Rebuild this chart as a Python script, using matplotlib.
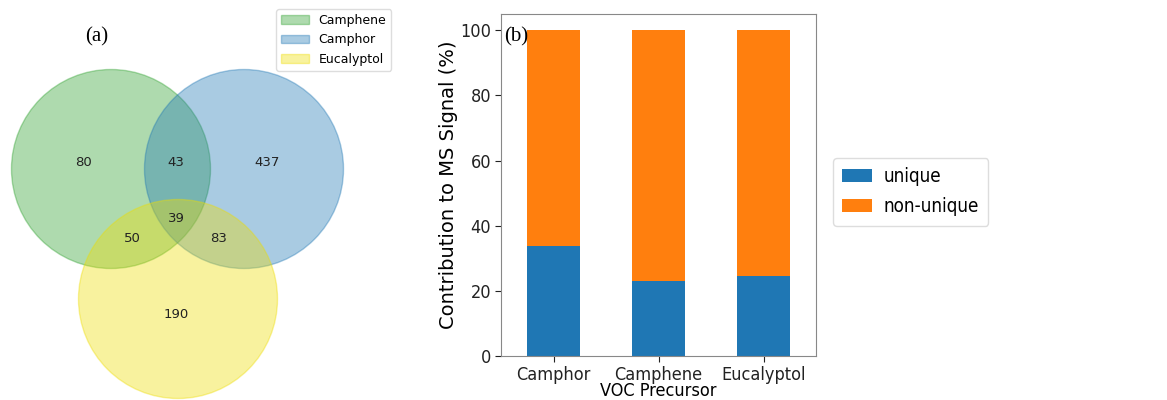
import matplotlib
matplotlib.use("Agg")
import matplotlib.pyplot as plt
from matplotlib.patches import Circle, Patch
from matplotlib.font_manager import FontProperties
import numpy as np

# ---- data ----
venn_sets = ["Camphene", "Camphor", "Eucalyptol"]
venn_colors = ["#2ca02c", "#1f77b4", "#eedd00"]
# region counts: only A, only B, only C, AB, AC, BC, ABC
venn_regions = ["100", "010", "001", "110", "101", "011", "111"]
venn_counts = [80, 437, 190, 43, 50, 83, 39]

categories = ["Camphor", "Camphene", "Eucalyptol"]
unique = [33.7, 23.0, 24.6]
non_unique = [100 - u for u in unique]

W, H = 1167, 400
fig = plt.figure(figsize=(W / 100, H / 100), dpi=100)

# ---- Venn (pixel-coordinate axes) ----
axv = fig.add_axes([0, 0, 420 / W, 1])
axv.set_xlim(0, 420)
axv.set_ylim(400, 0)
axv.set_aspect("equal")
axv.axis("off")
centers = [(111, 169), (244, 169), (178, 299)]
r = 99.5
for c, col in zip(centers, venn_colors):
    axv.add_patch(Circle(c, r, facecolor=col, alpha=0.38, edgecolor=col, lw=1))
label_pos = {"100": (84, 163), "010": (267, 163), "001": (176, 314),
             "110": (176, 163), "101": (132, 239), "011": (219, 239),
             "111": (176, 219)}
for reg, n in zip(venn_regions, venn_counts):
    x, y = label_pos[reg]
    axv.text(x, y, str(n), ha="center", va="center", fontsize=9.5, color="#222222")
axv.text(97, 37, "(a)", ha="center", va="center", fontsize=15,
         family="Liberation Serif")
handles = [Patch(facecolor=c, alpha=0.38, edgecolor=c) for c in venn_colors]
fig.legend(handles, venn_sets, loc="upper left",
           bbox_to_anchor=(276 / W, 1 - 9 / H), fontsize=9,
           handlelength=2.2, handletextpad=0.8, labelspacing=0.5,
           borderpad=0.4, borderaxespad=0, framealpha=1, edgecolor="#dddddd")

# ---- Stacked bar ----
fp = FontProperties(family="DejaVu Sans", stretch="condensed", size=13)
axb = fig.add_axes([501 / W, 1 - 356 / H, 315 / W, 342 / H])
x = np.arange(len(categories))
axb.bar(x, unique, width=0.5, color="#1f77b4", label="unique")
axb.bar(x, non_unique, width=0.5, bottom=unique, color="#ff7f0e", label="non-unique")
axb.set_xlim(-0.5, 2.5)
axb.set_ylim(0, 105)
axb.set_yticks([0, 20, 40, 60, 80, 100])
axb.set_xticks(x)
axb.set_xticklabels(categories)
for lab in axb.get_xticklabels() + axb.get_yticklabels():
    lab.set_fontproperties(fp)
axb.set_xlabel("VOC Precursor", fontproperties=fp, labelpad=-1)
axb.set_ylabel("Contribution to MS Signal (%)", fontsize=14, labelpad=2)
for s in axb.spines.values():
    s.set_color("#888888")
axb.tick_params(colors="#222222", length=4, pad=3)
axb.text(-0.47, 98, "(b)", ha="left", va="center", fontsize=15,
         family="Liberation Serif")
axb.legend(loc="center left", bbox_to_anchor=(1.054, 0.48), borderaxespad=0,
           prop=FontProperties(family="DejaVu Sans", stretch="condensed", size=13.5),
           framealpha=1, edgecolor="#dddddd", handlelength=1.6,
           handletextpad=0.6, labelspacing=0.6, borderpad=0.5)

fig.savefig("out.png", dpi=100)
